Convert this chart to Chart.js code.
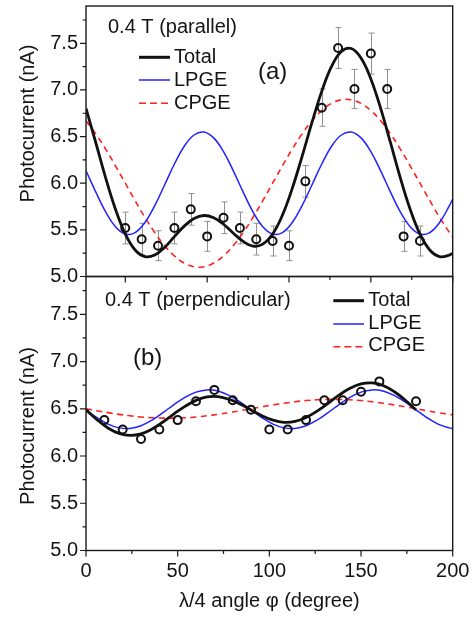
<!DOCTYPE html>
<html><head><meta charset="utf-8">
<script src="https://cdn.jsdelivr.net/npm/chart.js@4.4.0/dist/chart.umd.min.js"></script>
<style>
html,body{margin:0;padding:0;background:#fff;}
#wrap{position:relative;width:476px;height:621px;overflow:hidden;}
canvas{position:absolute;left:0;top:0;}
</style></head><body>
<div id="wrap"><canvas id="ca" width="476" height="621"></canvas><canvas id="cb" width="476" height="621"></canvas></div>
<script>
// ---------- data: panel (a) 0.4 T parallel ----------
const angleFitA = [-24,-18,-12,-6,0,6,12,18,24,30,36,42,48,54,60,66,72,78,84,90,96,102,108,114,120,126,132,138,144,150,156,162,168,174,180,186,192,198,200];
const totalA = [6.802,6.434,6.058,5.721,5.455,5.284,5.213,5.230,5.312,5.427,5.540,5.622,5.654,5.630,5.560,5.464,5.376,5.326,5.347,5.455,5.658,5.945,6.288,6.650,6.985,7.252,7.412,7.444,7.342,7.118,6.802,6.434,6.058,5.721,5.455,5.284,5.213,5.230,5.251];
const lpgeA = [6.133,5.905,5.692,5.534,5.455,5.471,5.579,5.759,5.981,6.206,6.396,6.517,6.549,6.486,6.339,6.133,5.905,5.692,5.534,5.455,5.471,5.579,5.759,5.981,6.206,6.396,6.517,6.549,6.486,6.339,6.133,5.905,5.692,5.534,5.455,5.471,5.579,5.759,5.830];
const cpgeA = [6.669,6.529,6.366,6.187,6.000,5.813,5.634,5.471,5.331,5.221,5.144,5.105,5.105,5.144,5.221,5.331,5.471,5.634,5.813,6.000,6.187,6.366,6.529,6.669,6.779,6.856,6.895,6.895,6.856,6.779,6.669,6.529,6.366,6.187,6.000,5.813,5.634,5.471,5.421];
const angleDataA = [0,10,20,30,40,50,60,70,80,90,100,110,120,130,140,150,160,170,180];
const photoA = [5.52,5.40,5.33,5.52,5.72,5.43,5.63,5.52,5.40,5.38,5.33,6.02,6.81,7.45,7.01,7.39,7.01,5.43,5.38];
const errA = [0.17,0.17,0.16,0.17,0.17,0.16,0.17,0.17,0.17,0.16,0.16,0.17,0.20,0.22,0.21,0.22,0.21,0.16,0.16];

// ---------- data: panel (b) 0.4 T perpendicular ----------
const angleFitB = [0,6,12,18,24,30,36,42,48,54,60,66,72,78,84,90,96,102,108,114,120,126,132,138,144,150,156,162,168,174,180,186,192,198,200];
const totalB = [6.488,6.384,6.297,6.239,6.218,6.234,6.285,6.360,6.446,6.526,6.589,6.626,6.629,6.601,6.551,6.488,6.426,6.379,6.357,6.366,6.408,6.475,6.558,6.644,6.716,6.763,6.774,6.747,6.683,6.593,6.488];
const lpgeB = [6.488,6.405,6.338,6.298,6.292,6.321,6.380,6.459,6.545,6.621,6.676,6.700,6.688,6.642,6.572,6.488,6.405,6.338,6.298,6.292,6.321,6.380,6.459,6.545,6.621,6.676,6.700,6.688,6.642,6.572,6.488,6.405,6.338,6.298,6.292];
const cpgeB = [6.500,6.479,6.459,6.441,6.426,6.413,6.405,6.401,6.401,6.405,6.413,6.426,6.441,6.459,6.479,6.500,6.521,6.541,6.559,6.574,6.587,6.595,6.599,6.599,6.595,6.587,6.574,6.559,6.541,6.521,6.500,6.479,6.459,6.441,6.436];
const angleDataB = [10,20,30,40,50,60,70,80,90,100,110,120,130,140,150,160,180];
const photoB = [6.38,6.28,6.18,6.28,6.38,6.58,6.70,6.59,6.49,6.28,6.28,6.38,6.59,6.59,6.68,6.79,6.58];

// ---------- ticks & labels ----------
const yMajor = [5.0,5.5,6.0,6.5,7.0,7.5];
const yMinor = [5.25,5.75,6.25,6.75,7.25,7.75];
const xMajor = [0,50,100,150,200];
const xMinor = [25,75,125,175];
const seriesNames = ['Total','LPGE','CPGE'];
const yTitle = 'Photocurrent (nA)';
const xTitle = '\u03bb/4 angle \u03c6 (degree)';
const panelTitles = ['0.4 T (parallel)','0.4 T (perpendicular)'];
const panelLetters = ['(a)','(b)'];

const FONT = '"Liberation Sans", Arial, Helvetica, sans-serif';
const TXT = '#141414';
const BLUE = '#2222ff';
const RED = '#ff2020';
const W = 476, H = 621;
const PLOT_L = 86, PLOT_R = 452.7;

function pts(xs, ys){ return ys.map((y,i)=>({x:xs[i], y:y})); }

function datasets(ax, ay, tx, ty, lx, ly, cx, cy){
  return [
    {label:'data', data:pts(ax,ay), showLine:false, pointRadius:4, pointBorderWidth:2,
     pointBorderColor:'#111', pointBackgroundColor:'rgba(0,0,0,0)', pointHoverRadius:4},
    {label:seriesNames[0], data:pts(tx,ty), borderColor:'#111', borderWidth:2.8, pointRadius:0, tension:0.4, fill:false},
    {label:seriesNames[1], data:pts(lx,ly), borderColor:BLUE, borderWidth:1.5, pointRadius:0, tension:0.4, fill:false},
    {label:seriesNames[2], data:pts(cx,cy), borderColor:RED, borderWidth:1.6, borderDash:[6,4.5], pointRadius:0, tension:0.4, fill:false}
  ];
}

function deco(o){
  return {
    id:'deco',
    beforeDatasetsDraw(chart){
      if(!o.err) return;
      const ctx = chart.ctx, xs = chart.scales.x, ys = chart.scales.y;
      ctx.save();
      ctx.strokeStyle = '#909090'; ctx.lineWidth = 1;
      o.errX.forEach((a,i)=>{
        const px = Math.round(xs.getPixelForValue(a))+0.5;
        const y1 = ys.getPixelForValue(o.errY[i]+o.err[i]);
        const y2 = ys.getPixelForValue(o.errY[i]-o.err[i]);
        ctx.beginPath();
        ctx.moveTo(px,y1); ctx.lineTo(px,y2);
        ctx.moveTo(px-3,y1); ctx.lineTo(px+3,y1);
        ctx.moveTo(px-3,y2); ctx.lineTo(px+3,y2);
        ctx.stroke();
      });
      ctx.restore();
    },
    afterDraw(chart){
      const ctx = chart.ctx, a = chart.chartArea, xs = chart.scales.x, ys = chart.scales.y;
      ctx.save();
      // frame
      ctx.strokeStyle = '#1a1a1a'; ctx.lineWidth = 1.4;
      ctx.strokeRect(a.left, a.top, a.right-a.left, a.bottom-a.top);
      // tick marks (outward)
      ctx.lineWidth = 1.2;
      ctx.beginPath();
      yMajor.forEach(v=>{ const p = ys.getPixelForValue(v); ctx.moveTo(a.left,p); ctx.lineTo(a.left-6,p); });
      yMinor.forEach(v=>{ const p = ys.getPixelForValue(v); ctx.moveTo(a.left,p); ctx.lineTo(a.left-3.5,p); });
      xMajor.forEach(v=>{ const p = xs.getPixelForValue(v); ctx.moveTo(p,a.bottom); ctx.lineTo(p,a.bottom+6); });
      xMinor.forEach(v=>{ const p = xs.getPixelForValue(v); ctx.moveTo(p,a.bottom); ctx.lineTo(p,a.bottom+3.5); });
      ctx.stroke();
      // y title
      ctx.fillStyle = TXT;
      ctx.font = '20px ' + FONT;
      ctx.textAlign = 'center'; ctx.textBaseline = 'alphabetic';
      ctx.save();
      ctx.translate(34, o.yTitleY); ctx.rotate(-Math.PI/2);
      ctx.fillText(yTitle, 0, 0);
      ctx.restore();
      if(o.xTitle){ ctx.fillText(xTitle, (a.left+a.right)/2, 607); }
      // panel title
      ctx.textAlign = 'left';
      ctx.fillText(o.title, o.titleX, o.titleY);
      // legend
      const L = o.leg;
      const styles = [
        {c:'#111', w:3, d:[]},
        {c:BLUE, w:1.5, d:[]},
        {c:RED, w:1.6, d:[7,4]}
      ];
      styles.forEach((s,i)=>{
        const ly = L.y[i];
        ctx.beginPath(); ctx.strokeStyle = s.c; ctx.lineWidth = s.w; ctx.setLineDash(s.d);
        ctx.moveTo(L.x0, ly); ctx.lineTo(L.x1, ly); ctx.stroke();
        ctx.setLineDash([]);
        ctx.fillText(seriesNames[i], L.tx, L.ty[i]);
      });
      // panel letter
      ctx.font = '24px ' + FONT;
      ctx.fillText(o.letter, o.letterX, o.letterY);
      ctx.restore();
    }
  };
}

function axes(xmin, xAxisH, showX){
  return {
    x:{type:'linear', min:xmin, max:200,
       afterBuildTicks:s=>{ s.ticks = xMajor.map(v=>({value:v})); },
       afterFit:s=>{ s.height = xAxisH; s.paddingLeft = 0; s.paddingRight = 0; },
       grid:{display:false, drawTicks:false}, border:{display:false},
       ticks:{display:showX, autoSkip:false, maxRotation:0, padding:9, color:TXT, font:{family:FONT, size:20},
              callback:v=>String(v)}},
    y:{type:'linear', min:5.0, max:7.9,
       afterBuildTicks:s=>{ s.ticks = yMajor.map(v=>({value:v})); },
       afterFit:s=>{ s.width = PLOT_L; s.paddingTop = 0; s.paddingBottom = 0; },
       grid:{display:false, drawTicks:false}, border:{display:false},
       ticks:{autoSkip:false, padding:8, color:TXT, font:{family:FONT, size:20},
              callback:v=>v.toFixed(1)}}
  };
}

const common = {
  responsive:false, animation:false, devicePixelRatio:1,
  plugins:{legend:{display:false}, tooltip:{enabled:false}},
  events:[]
};

new Chart(document.getElementById('ca'), {
  type:'line',
  data:{datasets:datasets(angleDataA, photoA, angleFitA, totalA, angleFitA, lpgeA, angleFitA, cpgeA)},
  options:Object.assign({}, common, {
    layout:{padding:{left:0, right:W-PLOT_R, top:3.9, bottom:0}},
    scales:axes(-24, H-276.5, false)
  }),
  plugins:[deco({err:errA, errX:angleDataA, errY:photoA, yTitleY:123.5, xTitle:false,
    title:panelTitles[0], titleX:108, titleY:33,
    leg:{x0:139, x1:170, y:[57.3,80,103.3], tx:174, ty:[63.3,86,108.5]},
    letter:panelLetters[0], letterX:258, letterY:79})]
});

new Chart(document.getElementById('cb'), {
  type:'line',
  data:{datasets:datasets(angleDataB, photoB, angleFitB, totalB, angleFitB, lpgeB, angleFitB, cpgeB)},
  options:Object.assign({}, common, {
    layout:{padding:{left:0, right:W-PLOT_R, top:276.5, bottom:0}},
    scales:axes(0, H-550.5, true)
  }),
  plugins:[deco({err:null, yTitleY:426, xTitle:true,
    title:panelTitles[1], titleX:105, titleY:306,
    leg:{x0:333.3, x1:364, y:[300.7,324,346.7], tx:368.3, ty:[306,328.5,351]},
    letter:panelLetters[1], letterX:133, letterY:365})]
});
</script>
</body></html>
